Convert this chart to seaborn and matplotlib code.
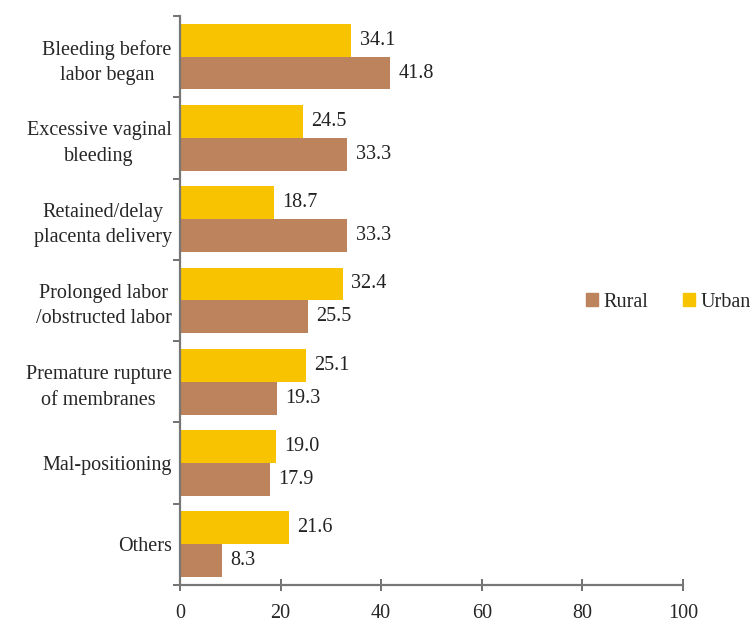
import pandas as pd
import seaborn as sns
import matplotlib.pyplot as plt
import numpy as np
from matplotlib.patches import Patch

# data z grafu
kategorie = ['Bleeding before\nlabor began', 'Excessive vaginal\nbleeding',
             'Retained/delay\nplacenta delivery', 'Prolonged labor\n/obstructed labor',
             'Premature rupture\nof membranes', 'Mal-positioning', 'Others']
urban = [34.1, 24.5, 18.7, 32.4, 25.1, 19.0, 21.6]
rural = [41.8, 33.3, 33.3, 25.5, 19.3, 17.9, 8.3]

barvy = {'Urban': '#F8C300', 'Rural': '#BC835C'}

df = pd.DataFrame({
    'Kategorie': kategorie * 2,
    'Hodnota': urban + rural,
    'Oblast': ['Urban'] * len(urban) + ['Rural'] * len(rural),
})

sns.set_style('white', {'xtick.bottom': True, 'ytick.left': True})
plt.rcParams['font.family'] = ['Liberation Serif', 'DejaVu Serif']

fig = plt.figure(figsize=(7.53, 6.24), dpi=100)
ax = fig.add_axes([0.239, 0.0625, 0.668, 0.912])

sns.barplot(data=df, y='Kategorie', x='Hodnota', hue='Oblast',
            hue_order=['Urban', 'Rural'], palette=barvy, order=kategorie,
            width=0.81, saturation=1, linewidth=0, ax=ax, legend=False)

# popisky hodnot
for cont in ax.containers:
    ax.bar_label(cont, fmt='%.1f', padding=6, fontsize=14.5, color='#222222')

ax.set_xlim(0, 100)
ax.set_xticks(np.arange(0, 101, 20))
ax.set_ylim(len(kategorie) - 0.5, -0.5)
ax.set_xlabel('')
ax.set_ylabel('')

# tecky na ose y mezi kategoriemi
ax.set_yticks(np.arange(-0.5, len(kategorie)), minor=True)
ax.tick_params(axis='y', which='major', length=0, pad=6, labelsize=14.5)
ax.tick_params(axis='y', which='minor', length=5, width=1.3, color='#666666', direction='out')
ax.tick_params(axis='x', length=8, width=1.3, color='#666666', direction='inout',
               labelsize=14.5, pad=10)
for lab in ax.get_yticklabels():
    lab.set_multialignment('center')
    lab.set_linespacing(1.45)

for s in ['top', 'right']:
    ax.spines[s].set_visible(False)
for s in ['left', 'bottom']:
    ax.spines[s].set_color('#777777')
    ax.spines[s].set_linewidth(1.6)

# legenda
handles = [Patch(color=barvy['Rural'], label='Rural'), Patch(color=barvy['Urban'], label='Urban')]
fig.legend(handles=handles, loc='center left', bbox_to_anchor=(0.765, 0.516), ncol=2,
           frameon=False, fontsize=14.5, handlelength=0.6, handleheight=0.6,
           handletextpad=0.25, columnspacing=1.75, borderpad=0)

fig.savefig('out.png', dpi=100)
